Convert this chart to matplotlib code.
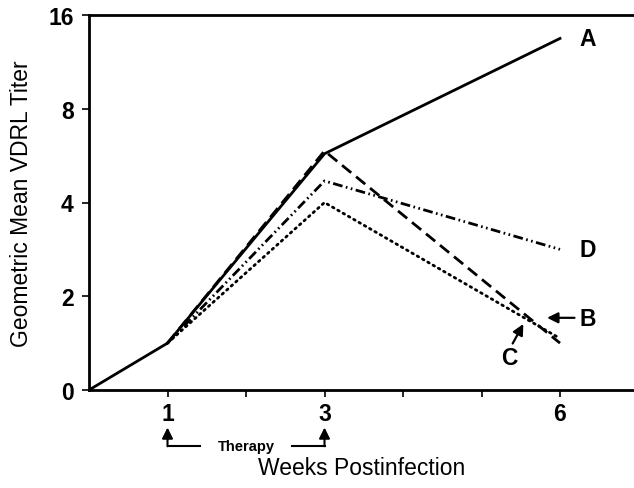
import matplotlib as mpl
mpl.use('Agg')
import matplotlib.pyplot as plt

# values in log2 units (0 -> "0", 1 -> 2, 2 -> 4, 3 -> 8, 4 -> 16)
weeks_start = [0, 1]
start_vals = [0, 0.5]
weeks = [1, 3, 6]
A = [0.5, 2.52, 3.75]
B = [0.5, 2.55, 0.5]
C = [0.5, 2.0, 0.55]
D = [0.5, 2.23, 1.5]
ytick_pos = [0, 1, 2, 3, 4]
ytick_labels = ['0', '2', '4', '8', '16']
xtick_labels = {1: '1', 3: '3', 6: '6'}

plt.rcParams['font.family'] = ['Liberation Sans', 'DejaVu Sans']
plt.rcParams['lines.scale_dashes'] = False

fig = plt.figure(figsize=(6.34, 4.89), dpi=100)
ax = fig.add_axes([89/634, 98/489, 545/634, 375/489])

lw = 2.0
ax.plot(weeks_start, start_vals, color='black', lw=lw, solid_capstyle='butt')
ax.plot(weeks, A, color='black', lw=lw)
ax.plot(weeks, B, color='black', lw=lw, dashes=(8.5, 4.5))
ax.plot(weeks, C, color='black', lw=lw, dashes=(1.2, 3.2), dash_capstyle='round')
ax.plot(weeks, D, color='black', lw=lw, dashes=(7, 2.5, 1.2, 2.5, 1.2, 2.5))

ax.set_xlim(0, 545/78.5)
ax.set_ylim(0, 4)
ax.set_yticks(ytick_pos)
ax.set_yticklabels(ytick_labels)
ax.set_xticks([1, 2, 3, 4, 5, 6])
ax.set_xticklabels([xtick_labels.get(i, '') for i in range(1, 7)])
ax.tick_params(axis='both', direction='out', length=5, width=1.2, labelsize=16.5)
ax.tick_params(axis='y', pad=6)
ax.tick_params(axis='x', pad=4)
for lab in ax.get_xticklabels() + ax.get_yticklabels():
    lab.set_fontweight('bold')
ax.spines['right'].set_visible(False)
for s in ['left', 'bottom', 'top']:
    ax.spines[s].set_linewidth(2.0)

ax.set_ylabel('Geometric Mean VDRL Titer', fontsize=16.5, labelpad=11)
ax.set_xlabel('Weeks Postinfection', fontsize=16.5, labelpad=22)

# curve labels
lab_kw = dict(fontsize=16.5, fontweight='bold', va='center', ha='left')
ax.text(6.25, A[-1], 'A', **lab_kw)
ax.text(6.25, D[-1], 'D', **lab_kw)
ax.text(6.25, 0.76, 'B', **lab_kw)
ax.text(5.25, 0.35, 'C', **lab_kw)
ax.annotate('', xy=(5.8, 0.77), xytext=(6.22, 0.77),
            arrowprops=dict(arrowstyle='-|>', color='black', lw=1.6, mutation_scale=16))
ax.annotate('', xy=(5.55, 0.73), xytext=(5.38, 0.47),
            arrowprops=dict(arrowstyle='-|>', color='black', lw=1.6, mutation_scale=16))

# therapy bracket
ty = -0.6
for wx in [1, 3]:
    ax.annotate('', xy=(wx, -0.4), xytext=(wx, ty), xycoords='data',
                arrowprops=dict(arrowstyle='-|>', color='black', lw=1.5, mutation_scale=16,
                                shrinkA=0, shrinkB=0), annotation_clip=False)
ax.plot([1, 1.42], [ty, ty], color='black', lw=1.5, clip_on=False)
ax.plot([2.58, 3], [ty, ty], color='black', lw=1.5, clip_on=False)
ax.text(2.0, ty, 'Therapy', fontsize=10.5, fontweight='bold', ha='center', va='center')

fig.savefig('out.png', dpi=100)
